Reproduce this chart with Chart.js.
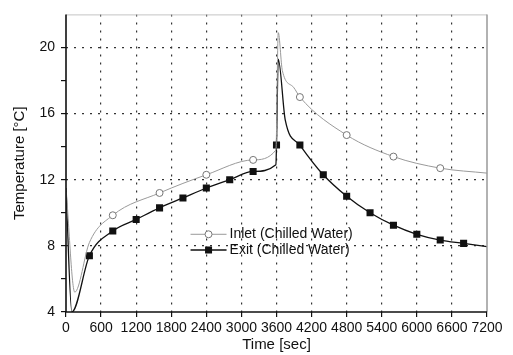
<!DOCTYPE html>
<html>
<head>
<meta charset="utf-8">
<script src="https://cdn.jsdelivr.net/npm/chart.js@4.4.0/dist/chart.umd.min.js"></script>
<style>
  html, body { margin: 0; padding: 0; background: #fff; }
  #wrap { width: 513px; height: 355px; }
</style>
</head>
<body>
<div id="wrap"><canvas id="chart" width="513" height="355"></canvas></div>
<script>
// values (time in sec, temperature in degC)
var inletTime = [0, 150, 400, 800, 1600, 2400, 3200, 3590, 3630, 3700, 3890, 4000, 4800, 5600, 6400, 7200];
var inletTemp = [11.5, 5.2, 8.2, 9.85, 11.2, 12.3, 13.2, 13.8, 20.9, 18.6, 17.6, 17.0, 14.7, 13.4, 12.7, 12.4];
var inletMark = [0, 0, 0, 1, 1, 1, 1, 0, 0, 0, 0, 1, 1, 1, 1, 0];

var exitTime = [0, 100, 400, 800, 1200, 1600, 2000, 2400, 2800, 3200, 3590, 3600, 3630, 3750, 4000, 4400, 4800, 5200, 5600, 6000, 6400, 6800, 7200];
var exitTemp = [11.5, 4.0, 7.4, 8.9, 9.6, 10.3, 10.9, 11.5, 12.0, 12.5, 12.9, 14.1, 19.3, 15.6, 14.1, 12.3, 11.0, 10.0, 9.25, 8.7, 8.35, 8.15, 7.95];
var exitMark = [0, 0, 1, 1, 1, 1, 1, 1, 1, 1, 0, 1, 0, 0, 1, 1, 1, 1, 1, 1, 1, 1, 0];

var seriesNames = ['Inlet (Chilled Water)', 'Exit (Chilled Water)'];
var xTitle = 'Time [sec]';
var yTitle = 'Temperature [\u00B0C]';

function toPoints(ts, vs) {
  var out = [];
  for (var i = 0; i < ts.length; i++) out.push({ x: ts[i], y: vs[i] });
  return out;
}

var FONT = "'Liberation Sans', Arial, sans-serif";

// frame + legend drawn on top of the library's scales
var framePlugin = {
  id: 'frame',
  afterDatasetsDraw: function (chart) {
    var ctx = chart.ctx, a = chart.chartArea;
    ctx.save();
    ctx.strokeStyle = '#c4c4c4';
    ctx.lineWidth = 1;
    ctx.beginPath(); ctx.moveTo(a.left, a.top + 0.5); ctx.lineTo(a.right, a.top + 0.5); ctx.stroke();
    ctx.strokeStyle = '#999';
    ctx.lineWidth = 1.5;
    ctx.beginPath(); ctx.moveTo(a.right, a.top); ctx.lineTo(a.right, a.bottom); ctx.stroke();
    ctx.strokeStyle = '#111';
    ctx.lineWidth = 1.6;
    ctx.beginPath(); ctx.moveTo(a.left, a.top); ctx.lineTo(a.left, a.bottom); ctx.lineTo(a.right, a.bottom); ctx.stroke();

    // legend
    var xs = chart.scales.x, ys = chart.scales.y;
    var lx = xs.getPixelForValue(2130);
    var rows = [ys.getPixelForValue(8.7), ys.getPixelForValue(7.75)];
    ctx.font = '14px ' + FONT;
    ctx.textBaseline = 'middle';
    ctx.fillStyle = '#111';
    for (var i = 0; i < 2; i++) {
      var ds = chart.data.datasets[i];
      var y = rows[i];
      ctx.strokeStyle = ds.borderColor;
      ctx.lineWidth = ds.borderWidth;
      ctx.beginPath(); ctx.moveTo(lx, y); ctx.lineTo(lx + 36, y); ctx.stroke();
      if (i === 0) {
        ctx.fillStyle = '#fff';
        ctx.strokeStyle = '#777';
        ctx.lineWidth = 1;
        ctx.beginPath(); ctx.arc(lx + 18, y, 3.5, 0, Math.PI * 2); ctx.fill(); ctx.stroke();
      } else {
        ctx.fillStyle = '#111';
        ctx.fillRect(lx + 14.5, y - 3.5, 7, 7);
      }
      ctx.fillStyle = '#111';
      ctx.fillText(seriesNames[i], lx + 39, y);
    }
    ctx.restore();
  }
};

var gridColor = '#333';

new Chart(document.getElementById('chart'), {
  type: 'line',
  data: {
    datasets: [{
      label: seriesNames[0],
      data: toPoints(inletTime, inletTemp),
      borderColor: '#9a9a9a',
      borderWidth: 1,
      cubicInterpolationMode: 'monotone',
      pointStyle: 'circle',
      pointRadius: inletMark.map(function (m) { return m ? 3.5 : 0; }),
      pointBackgroundColor: '#fff',
      pointBorderColor: '#777',
      pointBorderWidth: 1,
      fill: false
    }, {
      label: seriesNames[1],
      data: toPoints(exitTime, exitTemp),
      borderColor: '#111',
      borderWidth: 1.3,
      cubicInterpolationMode: 'monotone',
      pointStyle: 'rect',
      pointRadius: exitMark.map(function (m) { return m ? 5 : 0; }),
      pointBackgroundColor: '#111',
      pointBorderColor: '#111',
      pointBorderWidth: 0,
      fill: false
    }]
  },
  options: {
    responsive: false,
    animation: false,
    devicePixelRatio: 1,
    layout: { padding: { top: 10, right: 26, left: 0, bottom: 0 } },
    plugins: {
      legend: { display: false },
      tooltip: { enabled: false }
    },
    scales: {
      x: {
        type: 'linear',
        min: 0,
        max: 7200,
        afterFit: function (s) { s.height = 43; },
        border: { display: false, dash: [2, 6] },
        grid: {
          color: function (c) { return (c.tick && c.tick.value > 0 && c.tick.value < 7200) ? gridColor : 'rgba(0,0,0,0)'; },
          lineWidth: 1.2,
          tickColor: '#111',
          tickLength: 5,
          tickWidth: 1.2
        },
        ticks: {
          stepSize: 600,
          autoSkip: false,
          maxRotation: 0,
          padding: 3,
          color: '#111',
          font: { family: FONT, size: 14 },
          callback: function (v) { return String(v); }
        },
        title: {
          display: true,
          text: xTitle,
          color: '#111',
          font: { family: FONT, size: 15 },
          padding: { top: 0, bottom: 1 }
        }
      },
      y: {
        min: 4,
        max: 22,
        afterFit: function (s) { s.width = 66; },
        border: { display: false, dash: [2, 6] },
        grid: {
          color: function (c) { return (c.tick && c.tick.value % 4 === 0 && c.tick.value > 4 && c.tick.value < 22) ? gridColor : 'rgba(0,0,0,0)'; },
          lineWidth: 1.2,
          tickColor: function (c) { return (c.tick && c.tick.value < 22) ? '#111' : 'rgba(0,0,0,0)'; },
          tickLength: 5,
          tickWidth: 1.2
        },
        ticks: {
          stepSize: 2,
          autoSkip: false,
          padding: 6,
          color: '#111',
          font: { family: FONT, size: 14 },
          callback: function (v) { return (v % 4 === 0 && v <= 20) ? String(v) : ''; }
        },
        title: {
          display: true,
          text: yTitle,
          color: '#111',
          font: { family: FONT, size: 15 },
          padding: { top: 11, bottom: 0 }
        }
      }
    }
  },
  plugins: [framePlugin]
});
</script>
</body>
</html>
